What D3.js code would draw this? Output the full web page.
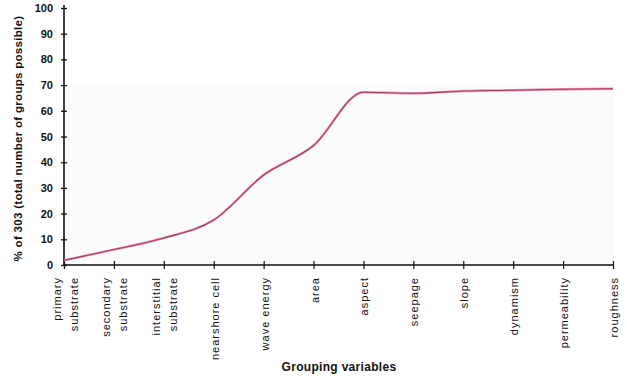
<!DOCTYPE html>
<html><head><meta charset="utf-8">
<script src="https://cdn.jsdelivr.net/npm/d3@7"></script>
<style>body{margin:0;background:#fff}svg{display:block}text{font-family:"Liberation Sans",Arial,sans-serif;fill:#111}</style>
</head><body>
<svg id="c" width="627" height="376"></svg>
<script>
const categories = [["primary","substrate"],["secondary","substrate"],["interstitial","substrate"],["nearshore cell"],["wave energy"],["area"],["aspect"],["seepage"],["slope"],["dynamism"],["permeability"],["roughness"]];
const values = [1.8, 6.0, 10.5, 17.5, 35, 46.5, 67.2, 66.8, 67.7, 68, 68.4, 68.6];
const yTicks = [0,10,20,30,40,50,60,70,80,90,100];
const yTitle = "% of 303 (total number of groups possible)";
const xTitle = "Grouping variables";

const svg = d3.select("#c");
const x0 = 64, x1 = 613, yBot = 265, yTop = 8;
const x = d3.scalePoint().domain(d3.range(categories.length)).range([x0, x1]);
const y = d3.scaleLinear().domain([0,100]).range([yBot, yTop]);

// faint plot background
svg.append("rect").attr("x", x0+1).attr("y", y(70)).attr("width", x1-x0).attr("height", yBot-y(70)).attr("fill","#fbfbfc");

// y axis
const ya = svg.append("g").attr("transform",`translate(${x0},0)`)
  .call(d3.axisLeft(y).tickValues(yTicks).tickSize(3).tickPadding(8));
ya.select(".domain").attr("stroke","#111").attr("stroke-width",1.6).attr("d",`M0,${yBot}V${yTop-3}`);
ya.selectAll(".tick line").attr("x1",-3).attr("x2",3).attr("stroke","#111").attr("stroke-width",1.3);
ya.selectAll(".tick text").style("font-size","11px").style("font-weight","bold").attr("fill","#111");

// x axis
const xa = svg.append("g").attr("transform",`translate(0,${yBot})`)
  .call(d3.axisBottom(x).tickSize(0).tickFormat(""));
xa.select(".domain").attr("stroke","#111").attr("stroke-width",1.4).attr("d",`M${x0},0H${x1}`);
xa.selectAll(".tick line").attr("y1",-4).attr("y2",4).attr("stroke","#111").attr("stroke-width",1.2);

// x labels
categories.forEach((lines,i)=>{
  const n = lines.length;
  lines.forEach((t,j)=>{
    const off = (j - (n-1)/2) * 17;
    svg.append("text")
      .attr("transform",`translate(${x(i)+off+5},${yBot+12}) rotate(-90)`)
      .attr("text-anchor","end")
      .style("font-size","11px").style("letter-spacing","1px")
      .text(t);
  });
});

// line
const line = d3.line().x((d,i)=>x(i)).y(d=>y(d)).curve(d3.curveMonotoneX);
svg.append("path").datum(values).attr("d",line).attr("fill","none")
  .attr("stroke","#e994a8").attr("stroke-width",2.4);
svg.append("path").datum(values).attr("d",line).attr("fill","none")
  .attr("stroke","#a33c5a").attr("stroke-width",1.1);

// titles
svg.append("text").attr("transform",`translate(22,${(yTop+yBot)/2+2}) rotate(-90)`)
  .attr("text-anchor","middle").style("font-size","11.5px").style("font-weight","bold").style("letter-spacing","0.3px").text(yTitle);
svg.append("text").attr("x",339).attr("y",371).attr("text-anchor","middle")
  .style("font-size","12px").style("font-weight","bold").style("letter-spacing","0.3px").text(xTitle);
</script>
</body></html>
